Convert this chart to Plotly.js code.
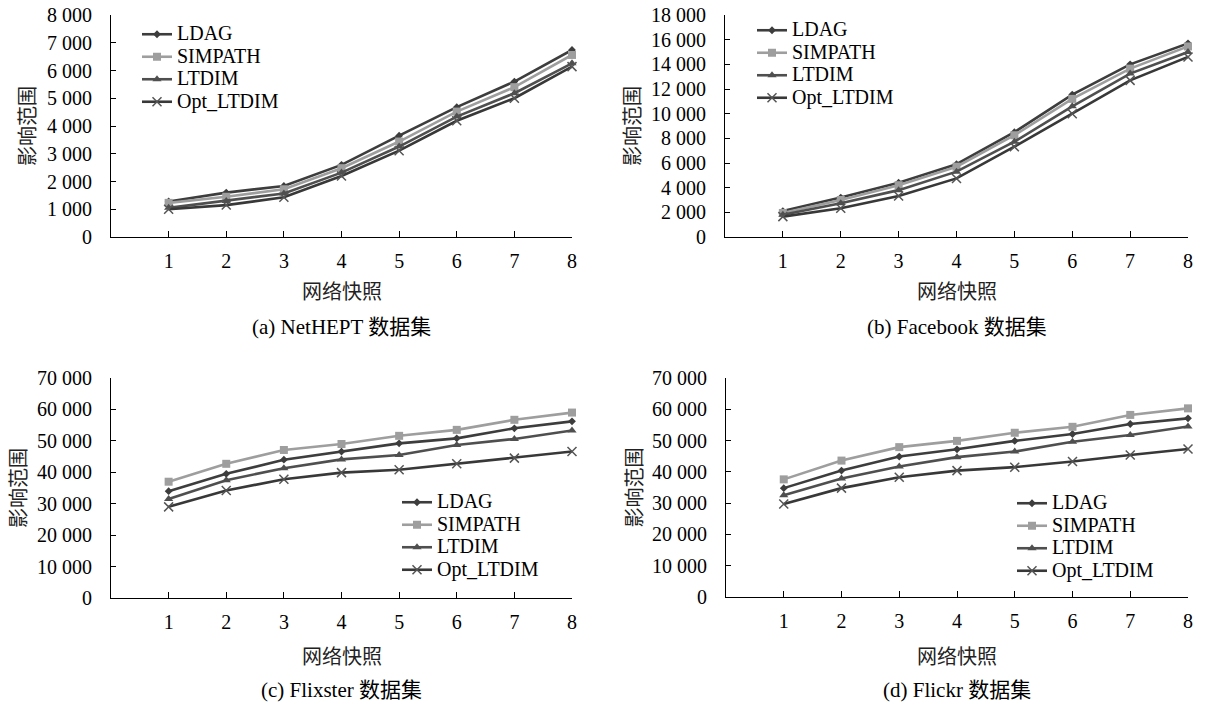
<!DOCTYPE html>
<html>
<head>
<meta charset="utf-8">
<script src="https://cdn.plot.ly/plotly-3.0.1.min.js"></script>
<style>
html,body{margin:0;padding:0;background:#fff;}
#chart{width:1206px;height:705px;}
</style>
</head>
<body>
<div id="chart"></div>
<script>
// ---- data ----
const snapshots = [1, 2, 3, 4, 5, 6, 7, 8];
const seriesNames = ["LDAG", "SIMPATH", "LTDIM", "Opt_LTDIM"];

// (a) NetHEPT
const netheptLDAG    = [1280, 1600, 1840, 2600, 3650, 4680, 5600, 6740];
const netheptSIMPATH = [1230, 1450, 1720, 2480, 3440, 4520, 5400, 6560];
const netheptLTDIM   = [1050, 1300, 1570, 2320, 3260, 4340, 5180, 6260];
const netheptOpt     = [1000, 1150, 1430, 2200, 3110, 4190, 5000, 6140];

// (b) Facebook
const facebookLDAG    = [2100, 3200, 4400, 5900, 8500, 11550, 14000, 15700];
const facebookSIMPATH = [1950, 3000, 4200, 5700, 8250, 11200, 13650, 15450];
const facebookLTDIM   = [1800, 2730, 3800, 5300, 7730, 10600, 13250, 15000];
const facebookOpt     = [1650, 2330, 3320, 4750, 7320, 10000, 12700, 14600];

// (c) Flixster
const flixsterLDAG    = [34000, 39500, 44000, 46600, 49200, 50800, 54000, 56200];
const flixsterSIMPATH = [37000, 42700, 47100, 49000, 51600, 53500, 56700, 59000];
const flixsterLTDIM   = [31500, 37500, 41300, 44100, 45500, 48700, 50600, 53300];
const flixsterOpt     = [29000, 34200, 37800, 39900, 40800, 42700, 44500, 46600];

// (d) Flickr
const flickrLDAG    = [34800, 40400, 44900, 47200, 49900, 52100, 55300, 57100];
const flickrSIMPATH = [37600, 43600, 47900, 49900, 52500, 54400, 58200, 60300];
const flickrLTDIM   = [32500, 37900, 41700, 44700, 46500, 49600, 51800, 54500];
const flickrOpt     = [29700, 34800, 38300, 40400, 41500, 43300, 45400, 47300];

const panelLabels = ["(a) NetHEPT 数据集", "(b) Facebook 数据集", "(c) Flixster 数据集", "(d) Flickr 数据集"];
const xTitle = "网络快照";
const yTitle = "影响范围";
const yMax = [8000, 18000, 70000, 70000];
const yStep = [1000, 2000, 10000, 10000];

// ---- styles ----
const styles = [
  {color: "#3d3d3d", symbol: "diamond", size: 6, mcolor: "#3d3d3d"},
  {color: "#9e9e9e", symbol: "square", size: 8, mcolor: "#9e9e9e"},
  {color: "#4f4f4f", symbol: "triangle-up", size: 8, mcolor: "#4f4f4f"},
  {color: "#383838", symbol: "x-thin-open", size: 9, mcolor: "#555555"}
];

const panelData = [
  [netheptLDAG, netheptSIMPATH, netheptLTDIM, netheptOpt],
  [facebookLDAG, facebookSIMPATH, facebookLTDIM, facebookOpt],
  [flixsterLDAG, flixsterSIMPATH, flixsterLTDIM, flixsterOpt],
  [flickrLDAG, flickrSIMPATH, flickrLTDIM, flickrOpt]
];

const W = 1206, H = 705;
const px = v => v / W;
const py = v => 1 - v / H;

// panel geometry (pixels)
const geo = [
  {x0: 111, x1: 572, yTop: 15, yBot: 237, ytx: 28, legX: 137, legY: 18, titleY: 292, capY: 327},
  {x0: 725, x1: 1188, yTop: 15, yBot: 237, ytx: 633, legX: 752, legY: 14, titleY: 292, capY: 327},
  {x0: 111, x1: 572, yTop: 378, yBot: 598, ytx: 19, legX: 397, legY: 486, titleY: 657, capY: 690},
  {x0: 726, x1: 1188, yTop: 378, yBot: 597, ytx: 634, legX: 1012, legY: 487, titleY: 657, capY: 690}
];

const serif = "Liberation Serif, Times New Roman, Noto Sans CJK SC, serif";
const cjk = "Liberation Serif, Noto Sans CJK SC, sans-serif";

const traces = [];
const layout = {
  width: W, height: H,
  margin: {l: 0, r: 0, t: 0, b: 0},
  paper_bgcolor: "#ffffff",
  plot_bgcolor: "rgba(0,0,0,0)",
  separators: ". ",
  font: {family: serif, size: 20, color: "#000"},
  annotations: [],
  showlegend: true
};

panelData.forEach((series, p) => {
  const sfx = p === 0 ? "" : String(p + 1);
  const legName = "legend" + sfx;
  series.forEach((vals, i) => {
    const st = styles[i];
    traces.push({
      type: "scatter", mode: "lines+markers",
      x: snapshots, y: vals,
      name: '<span style="font-size:20px">' + seriesNames[i] + '</span>',
      xaxis: "x" + sfx, yaxis: "y" + sfx,
      legend: legName,
      line: {color: st.color, width: 2.6},
      marker: {symbol: st.symbol, size: st.size, color: st.mcolor,
               line: {color: st.mcolor, width: st.symbol.indexOf("x") === 0 ? 1.5 : 0}},
      cliponaxis: false
    });
  });
  const g = geo[p];
  layout["xaxis" + sfx] = {
    domain: [px(g.x0), px(g.x1)], anchor: "y" + sfx,
    range: [0, 8], tickvals: snapshots, ticktext: snapshots.map(String),
    showline: true, linecolor: "#000", linewidth: 1,
    ticks: "inside", ticklen: 6, tickcolor: "#000", tickwidth: 1,
    showgrid: false, zeroline: false, fixedrange: true,
    ticklabelstandoff: 6,
    tickfont: {family: serif, size: 20, color: "#000"}
  };
  layout["yaxis" + sfx] = {
    domain: [py(g.yBot), py(g.yTop)], anchor: "x" + sfx,
    range: [0, yMax[p]], dtick: yStep[p], tick0: 0,
    separatethousands: true, tickformat: ",d",
    showline: true, linecolor: "#000", linewidth: 1,
    ticks: "inside", ticklen: 5, tickcolor: "#000", tickwidth: 1,
    showgrid: false, zeroline: false, fixedrange: true,
    ticklabelstandoff: 14,
    tickfont: {family: serif, size: 20, color: "#000"}
  };
  layout[legName] = {
    x: px(g.legX), y: py(g.legY), xanchor: "left", yanchor: "top",
    xref: "paper", yref: "paper",
    bgcolor: "rgba(0,0,0,0)", borderwidth: 0,
    font: {family: serif, size: 15, color: "#000"},
    itemwidth: 30, tracegroupgap: 0
  };
  const cx = (g.x0 + g.x1) / 2;
  layout.annotations.push({
    text: xTitle, xref: "paper", yref: "paper", x: px(cx), y: py(g.titleY),
    xanchor: "center", yanchor: "middle", showarrow: false,
    font: {family: cjk, size: 20, color: "#222"}
  });
  layout.annotations.push({
    text: panelLabels[p], xref: "paper", yref: "paper", x: px(cx), y: py(g.capY),
    xanchor: "center", yanchor: "middle", showarrow: false,
    font: {family: cjk, size: 21, color: "#000"}
  });
  layout.annotations.push({
    text: yTitle, xref: "paper", yref: "paper", x: px(g.ytx), y: py((g.yTop + g.yBot) / 2),
    xanchor: "center", yanchor: "middle", showarrow: false, textangle: -90,
    font: {family: cjk, size: 20, color: "#222"}
  });
});

Plotly.newPlot("chart", traces, layout, {displayModeBar: false, staticPlot: true});
</script>
</body>
</html>
